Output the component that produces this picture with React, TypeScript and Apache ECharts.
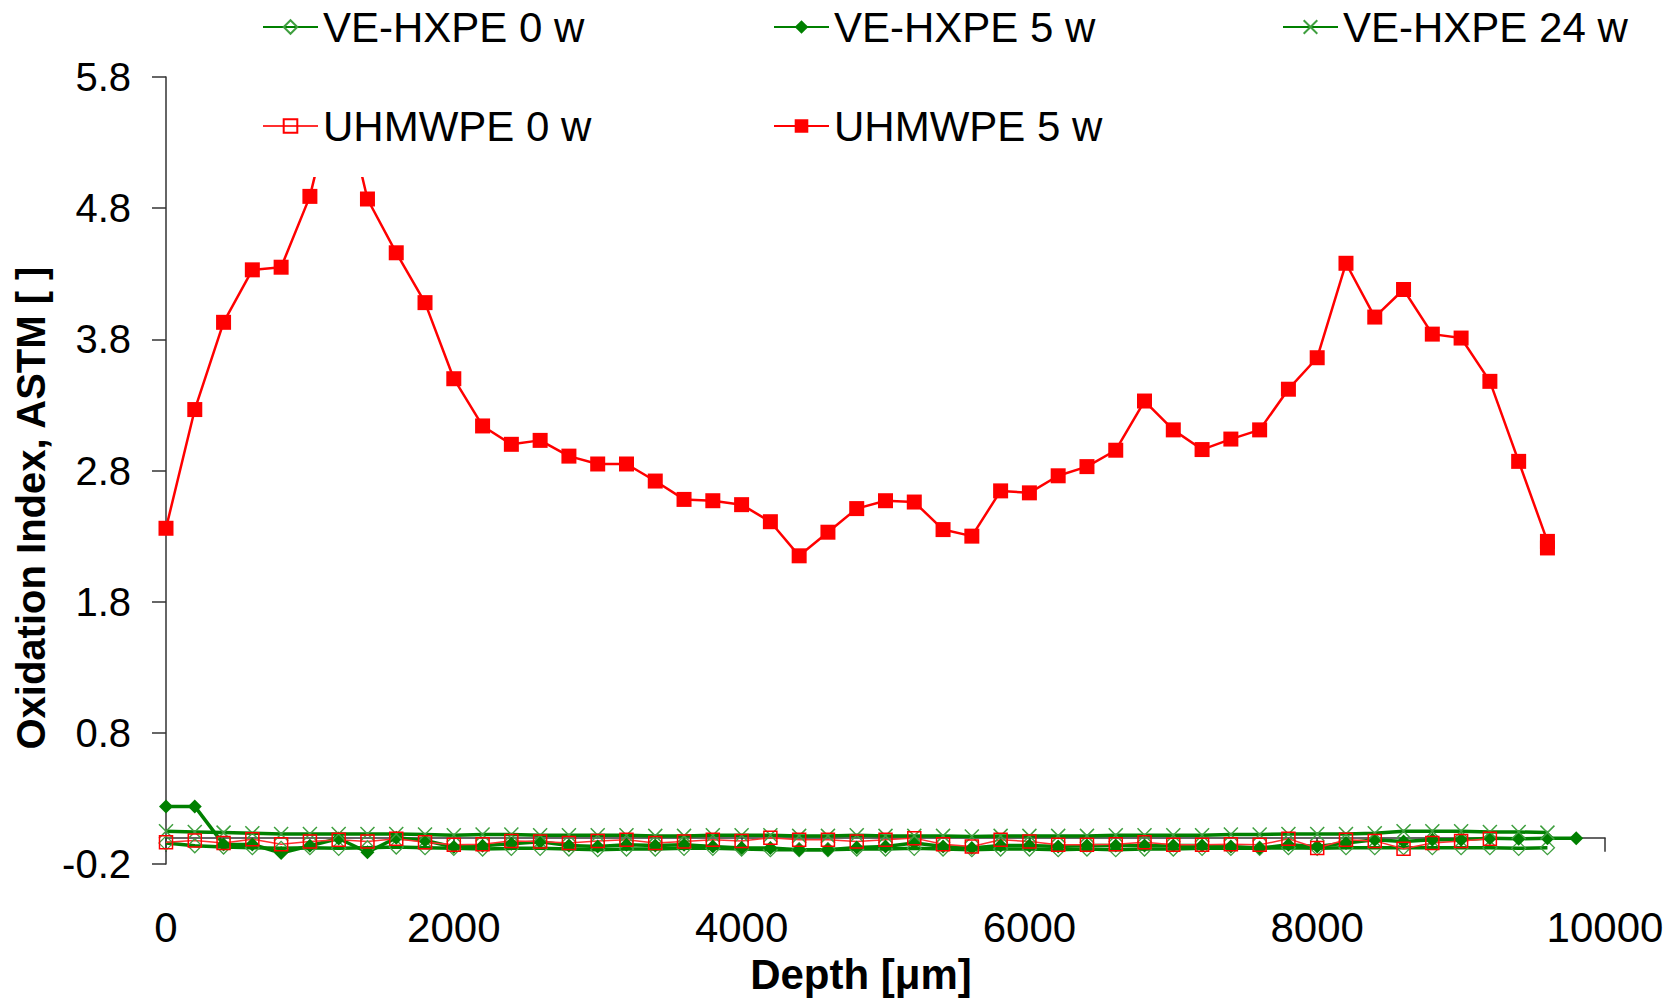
import React, { useEffect, useRef } from "react";
import * as echarts from "echarts";

// ---------- data ----------
const depths = [
  0, 200, 400, 600, 800, 1000, 1200, 1400, 1600, 1800, 2000, 2200, 2400, 2600, 2800, 3000, 3200,
  3400, 3600, 3800, 4000, 4200, 4400, 4600, 4800, 5000, 5200, 5400, 5600, 5800, 6000, 6200, 6400,
  6600, 6800, 7000, 7200, 7400, 7600, 7800, 8000, 8200, 8400, 8600, 8800, 9000, 9200, 9400, 9600,
];
const depthsVe5w = [
  0, 200, 400, 600, 800, 1000, 1200, 1400, 1600, 1800, 2000, 2200, 2400, 2600, 2800, 3000, 3200,
  3400, 3600, 3800, 4000, 4200, 4400, 4600, 4800, 5000, 5200, 5400, 5600, 5800, 6000, 6200, 6400,
  6600, 6800, 7000, 7200, 7400, 7600, 7800, 8000, 8200, 8400, 8600, 8800, 9000, 9200, 9400, 9600,
  9800,
];
const depthsUh5w = [
  0, 200, 400, 600, 800, 1000, 1200, 1400, 1600, 1800, 2000, 2200, 2400, 2600, 2800, 3000, 3200,
  3400, 3600, 3800, 4000, 4200, 4400, 4600, 4800, 5000, 5200, 5400, 5600, 5800, 6000, 6200, 6400,
  6600, 6800, 7000, 7200, 7400, 7600, 7800, 8000, 8200, 8400, 8600, 8800, 9000, 9200, 9400, 9600,
  9600,
];

const veHxpe0w = [
  -0.04, -0.06, -0.07, -0.075, -0.08, -0.075, -0.08, -0.075, -0.07, -0.075, -0.08, -0.085, -0.08,
  -0.08, -0.085, -0.09, -0.085, -0.085, -0.08, -0.08, -0.085, -0.09, -0.09, -0.09, -0.085, -0.085,
  -0.08, -0.085, -0.09, -0.085, -0.085, -0.09, -0.085, -0.09, -0.085, -0.085, -0.08, -0.08, -0.08,
  -0.075, -0.08, -0.075, -0.075, -0.075, -0.075, -0.075, -0.075, -0.08, -0.075,
];
const veHxpe5w = [
  0.24, 0.24, -0.05, -0.05, -0.115, -0.06, -0.005, -0.11, 0.0, -0.02, -0.07, -0.06, -0.045, -0.03,
  -0.058, -0.066, -0.053, -0.058, -0.053, -0.066, -0.078, -0.078, -0.09, -0.09, -0.073, -0.066,
  -0.04, -0.066, -0.078, -0.058, -0.058, -0.066, -0.058, -0.058, -0.058, -0.058, -0.058, -0.066,
  -0.078, -0.053, -0.066, -0.04, -0.015, -0.028, -0.015, -0.015, -0.002, -0.007, -0.002, -0.002,
];
const veHxpe24w = [
  0.05, 0.045, 0.04, 0.035, 0.03, 0.03, 0.03, 0.03, 0.03, 0.025, 0.02, 0.025, 0.025, 0.02, 0.02,
  0.02, 0.02, 0.015, 0.015, 0.02, 0.02, 0.02, 0.015, 0.015, 0.02, 0.015, 0.015, 0.015, 0.01, 0.015,
  0.015, 0.015, 0.015, 0.02, 0.02, 0.02, 0.02, 0.025, 0.025, 0.03, 0.03, 0.03, 0.035, 0.05, 0.05,
  0.05, 0.045, 0.045, 0.04,
];
const uhmwpe0w = [
  -0.033, -0.02, -0.04, -0.01, -0.048, -0.028, -0.015, -0.028, -0.007, -0.033, -0.053, -0.048,
  -0.023, -0.028, -0.04, -0.023, -0.015, -0.04, -0.028, -0.015, -0.023, 0.0, -0.015, -0.015, -0.028,
  -0.015, -0.002, -0.048, -0.066, -0.015, -0.028, -0.053, -0.053, -0.048, -0.033, -0.053, -0.053,
  -0.048, -0.053, -0.007, -0.078, -0.015, -0.023, -0.083, -0.04, -0.023, -0.007,
];
const uhmwpe5w = [
  2.36, 3.265, 3.93, 4.33, 4.35, 4.89, 5.8, 4.87, 4.46, 4.08, 3.5, 3.14, 3.0, 3.03, 2.91, 2.85, 2.85,
  2.72, 2.58, 2.57, 2.54, 2.41, 2.15, 2.33, 2.51, 2.57, 2.56, 2.35, 2.3, 2.645, 2.63, 2.76, 2.83,
  2.955, 3.33, 3.11, 2.96, 3.04, 3.11, 3.42, 3.66, 4.38, 3.97, 4.18, 3.84, 3.81, 3.48, 2.87, 2.26,
  2.21,
];

const seriesNames = ["VE-HXPE 0 w", "VE-HXPE 5 w", "VE-HXPE 24 w", "UHMWPE 0 w", "UHMWPE 5 w"];

const FONT = '"Liberation Sans", Arial, Helvetica, sans-serif';
const NARROW_FONT = '"Liberation Sans Narrow", "Arial Narrow", "Liberation Sans", Arial, sans-serif';
const GREEN = "#008000";
const LIGHT_GREEN = "#3f9f3f";
const RED = "#ff0000";

const zip = (xs: number[], ys: number[]) => ys.map((y, i) => [xs[i], y]);

export default function App() {
  const ref = useRef<HTMLDivElement>(null);

  useEffect(() => {
    document.body.style.margin = "0";
    if (!ref.current) return;
    const chart = echarts.init(ref.current, null, { renderer: "svg" });

    const legendBase = {
      orient: "horizontal",
      padding: 0,
      itemWidth: 55,
      itemHeight: 17,
      itemGap: 0,
      selectedMode: false,
      textStyle: { fontSize: 42, fontFamily: FONT, color: "#000", lineHeight: 46 },
    };

    const axisLineStyle = { color: "#333", width: 1.5 };

    chart.setOption({
      animation: false,
      backgroundColor: "#fff",
      grid: { left: 166, right: 75, top: 77, bottom: 134, containLabel: false },
      legend: [
        {
          ...legendBase,
          data: [seriesNames[0]],
          left: 232,
          top: 0,
          padding: [4, 40, 127, 30],
          backgroundColor: "#fff",
        },
        { ...legendBase, data: [seriesNames[1]], left: 773, top: 4 },
        { ...legendBase, data: [seriesNames[2]], left: 1282, top: 4 },
        { ...legendBase, data: [seriesNames[3]], left: 262, top: 103 },
        { ...legendBase, data: [seriesNames[4]], left: 773, top: 103 },
      ],
      xAxis: {
        type: "value",
        min: 0,
        max: 10000,
        interval: 2000,
        axisLine: { show: true, lineStyle: axisLineStyle },
        axisTick: { show: true, inside: false, length: 14, lineStyle: axisLineStyle },
        splitLine: { show: false },
        axisLabel: {
          fontSize: 42,
          color: "#000",
          fontFamily: FONT,
          margin: 42,
          formatter: (v: number) => String(v),
        },
        name: "Depth [μm]",
        nameLocation: "middle",
        nameGap: 86,
        nameTextStyle: {
          fontSize: 42,
          fontWeight: "bold",
          color: "#000",
          fontFamily: FONT,
          padding: [0, 49, 0, 0],
        },
      },
      yAxis: {
        type: "value",
        min: -0.2,
        max: 5.8,
        interval: 1,
        axisLine: { show: true, lineStyle: axisLineStyle },
        axisTick: { show: true, inside: false, length: 14, lineStyle: axisLineStyle },
        splitLine: { show: false },
        axisLabel: {
          fontSize: 40,
          color: "#000",
          fontFamily: NARROW_FONT,
          margin: 35,
          formatter: (v: number) => v.toFixed(1),
        },
        name: "Oxidation Index, ASTM [ ]",
        nameLocation: "middle",
        nameGap: 108,
        nameTextStyle: {
          fontSize: 40,
          fontWeight: "bold",
          color: "#000",
          fontFamily: FONT,
          padding: [0, 75, 0, 0],
        },
      },
      series: [
        {
          name: seriesNames[0],
          type: "line",
          data: zip(depths, veHxpe0w),
          symbol: "diamond",
          symbolSize: 14,
          lineStyle: { color: GREEN, width: 3.5 },
          itemStyle: { color: "rgba(255,255,255,0)", borderColor: LIGHT_GREEN, borderWidth: 1.3 },
        },
        {
          name: seriesNames[1],
          type: "line",
          data: zip(depthsVe5w, veHxpe5w),
          symbol: "diamond",
          symbolSize: 14,
          lineStyle: { color: GREEN, width: 3.5 },
          itemStyle: { color: GREEN },
        },
        {
          name: seriesNames[2],
          type: "line",
          data: zip(depths, veHxpe24w),
          symbol: "path://M0,0L10,10M10,0L0,10",
          symbolSize: 14,
          lineStyle: { color: GREEN, width: 3.5 },
          itemStyle: { color: "none", borderColor: LIGHT_GREEN, borderWidth: 1.5 },
        },
        {
          name: seriesNames[3],
          type: "line",
          data: zip(depths, uhmwpe0w),
          symbol: "rect",
          symbolSize: 13,
          lineStyle: { color: "#ff3030", width: 1.5 },
          itemStyle: { color: "rgba(255,255,255,0)", borderColor: RED, borderWidth: 1.5 },
        },
        {
          name: seriesNames[4],
          type: "line",
          data: zip(depthsUh5w, uhmwpe5w),
          symbol: "rect",
          symbolSize: 15,
          lineStyle: { color: RED, width: 2.5 },
          itemStyle: { color: RED },
        },
      ],
    });

    return () => chart.dispose();
  }, []);

  return <div ref={ref} style={{ width: 1680, height: 1000 }} />;
}
